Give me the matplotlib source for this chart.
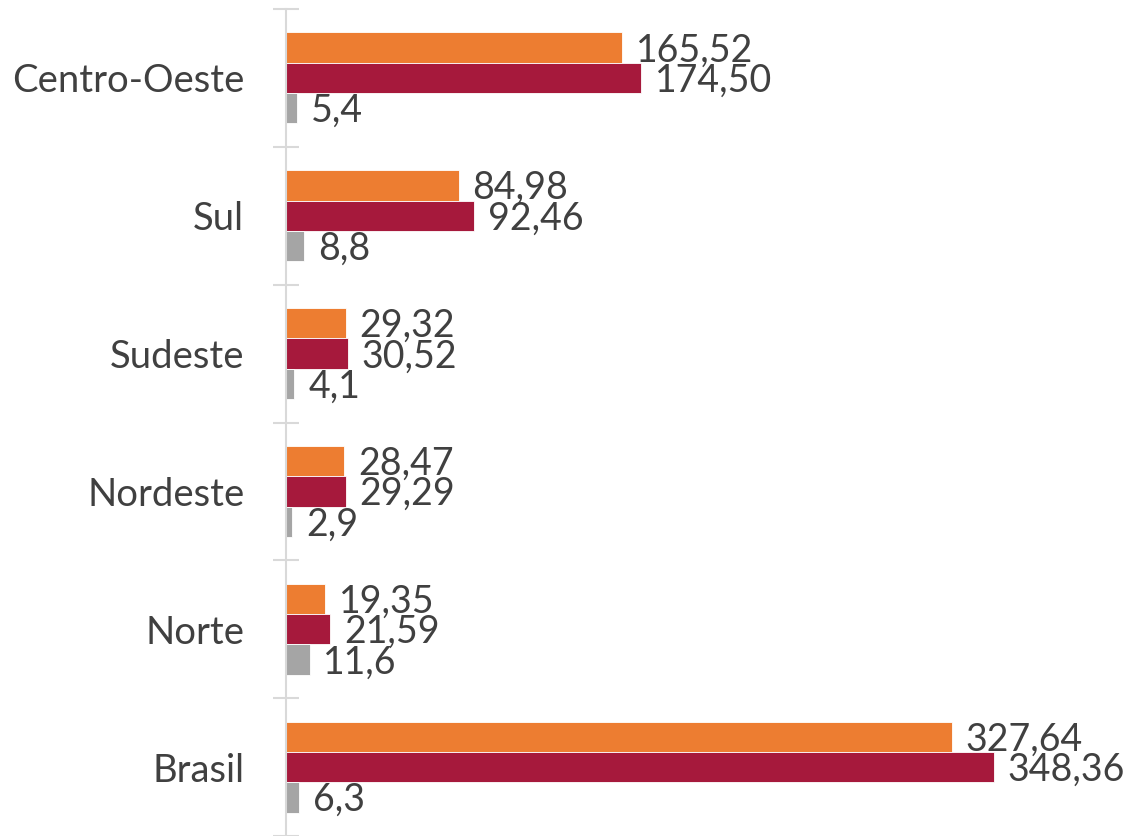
import matplotlib
matplotlib.use("Agg")
import matplotlib.pyplot as plt
import numpy as np

categories = ["Brasil", "Norte", "Nordeste", "Sudeste", "Sul", "Centro-Oeste"]
serie_a = [327.64, 19.35, 28.47, 29.32, 84.98, 165.52]
serie_b = [348.36, 21.59, 29.29, 30.52, 92.46, 174.50]
serie_c = [6.3, 11.6, 2.9, 4.1, 8.8, 5.4]
labels_a = ["327,64", "19,35", "28,47", "29,32", "84,98", "165,52"]
labels_b = ["348,36", "21,59", "29,29", "30,52", "92,46", "174,50"]
labels_c = ["6,3", "11,6", "2,9", "4,1", "8,8", "5,4"]

colors = ["#ED7D31", "#A6193C", "#A5A5A5"]
text_color = "#404040"
font = ["Lato", "DejaVu Sans"]

W, H = 1127, 836
fig = plt.figure(figsize=(W / 100, H / 100), dpi=100)
ax = fig.add_axes([286 / W, 0, 813 / W, 827 / H])

y = np.arange(len(categories))
bh = 0.22
series = [(serie_a, labels_a, bh), (serie_b, labels_b, 0.0), (serie_c, labels_c, -bh)]
for (vals, labs, off), c in zip(series, colors):
    ax.barh(y + off, vals, height=bh, color=c, edgecolor="white", linewidth=0.6)
    for yi, v, t in zip(y, vals, labs):
        ax.annotate(t, (v, yi + off), xytext=(10, -2), textcoords="offset points",
                    ha="left", va="center", fontsize=27, color=text_color, family=font)

ax.set_xlim(0, 400)
ax.set_ylim(-0.5, len(categories) - 0.5)

for s in ["top", "right", "bottom"]:
    ax.spines[s].set_visible(False)
ax.spines["left"].set_color("#D9D9D9")
ax.spines["left"].set_linewidth(1.5)
ax.set_xticks([])

ax.set_yticks(np.arange(-0.5, len(categories), 1.0))
ax.set_yticklabels([])
ax.tick_params(axis="y", which="major", direction="inout", length=19, width=1.5, color="#D9D9D9")
ax.set_yticks(y, minor=True)
ax.set_yticklabels(categories, minor=True, fontsize=27.5, color=text_color, family=font)
ax.tick_params(axis="y", which="minor", length=0, pad=30)

fig.savefig("out.png", dpi=100)
